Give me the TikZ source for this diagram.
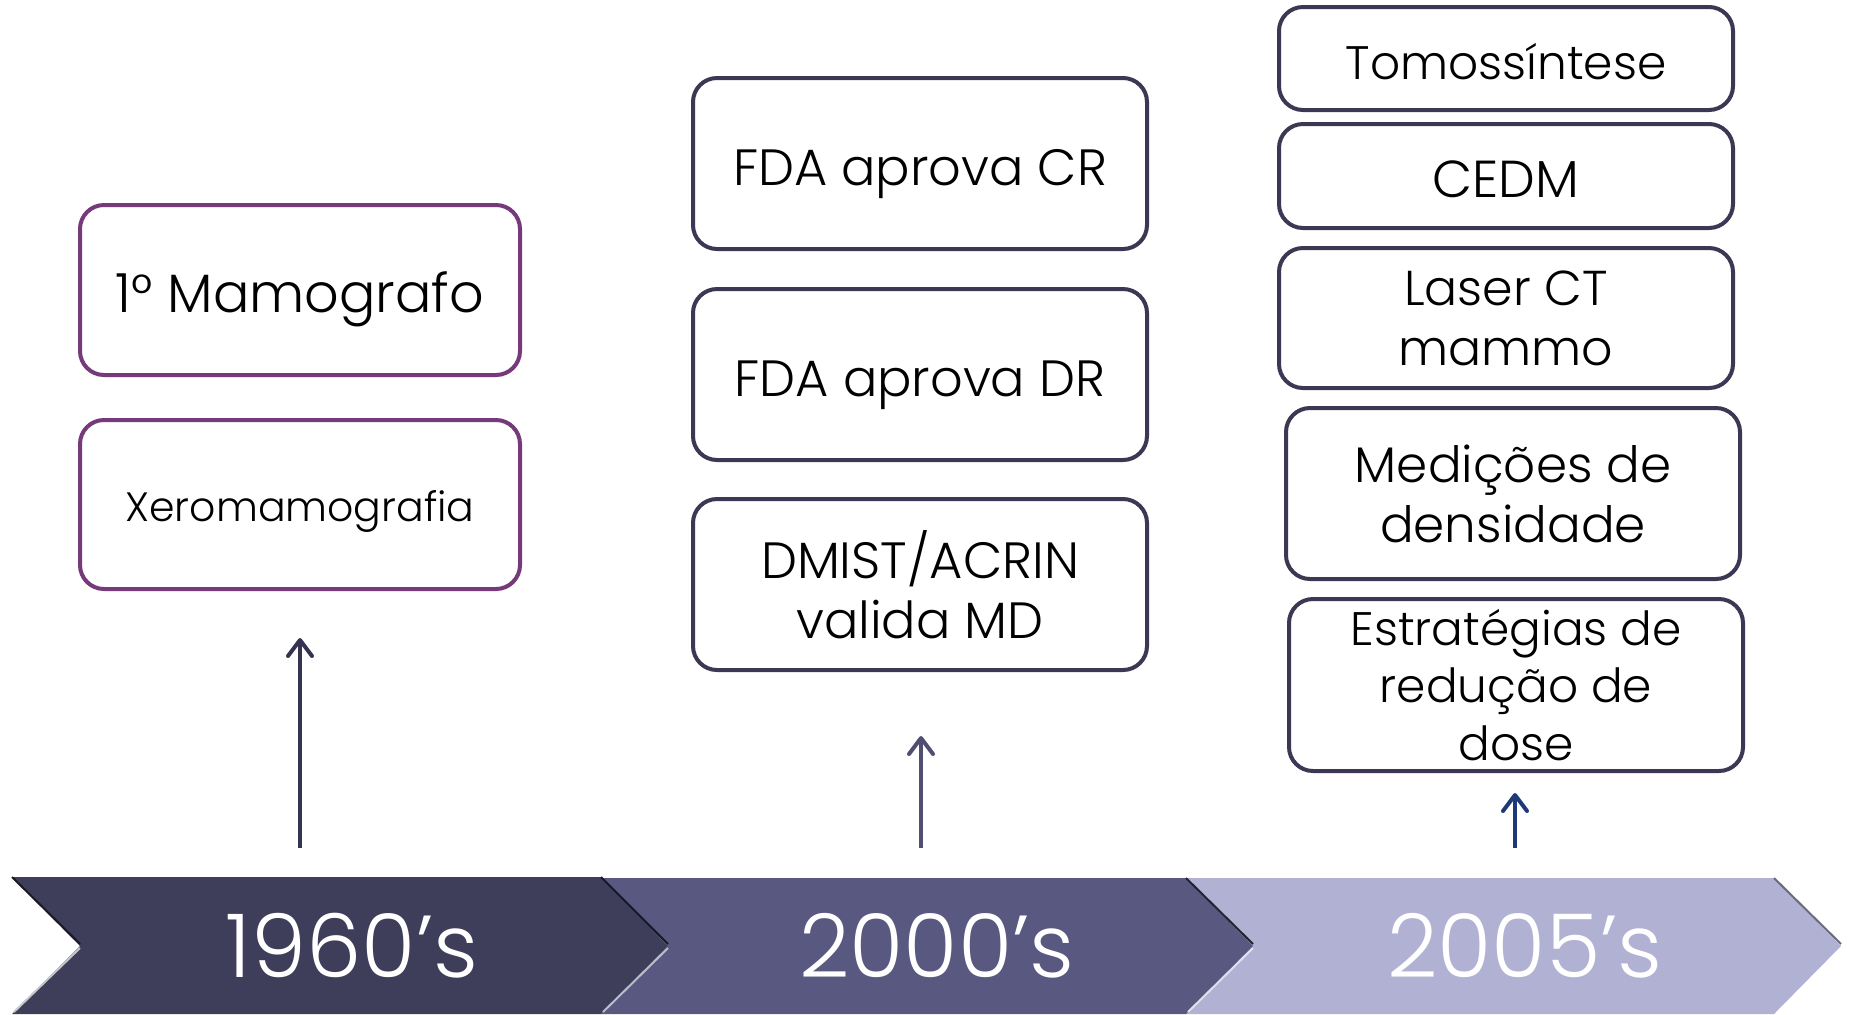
\documentclass[tikz,border=0pt]{standalone}
\usepackage{fontspec}
\setmainfont{Poppins}[UprightFont={* Light}]
\usetikzlibrary{arrows.meta}
\definecolor{purp}{RGB}{118,57,122}
\definecolor{dk}{RGB}{58,56,82}
\definecolor{chA}{RGB}{62,61,90}
\definecolor{chB}{RGB}{89,88,128}
\definecolor{chC}{RGB}{177,178,211}
\definecolor{arrA}{RGB}{52,52,80}
\definecolor{arrM}{RGB}{80,79,115}
\definecolor{arrB}{RGB}{31,56,120}
\tikzset{
  evbox/.style={draw=dk, line width=2pt, rounded corners=12pt, fill=white, align=center, inner sep=0pt, minimum width=227pt},
  pbox/.style={evbox, draw=purp, minimum width=220pt},
  fs/.style={font=\fontsize{#1}{30}\selectfont},
  fst/.style={font=\fontsize{#1}{28.7}\selectfont},
  oneline/.style={text height=#1, text depth=0pt},
  uparrow/.style={line width=2pt, -{Straight Barb[length=8pt,width=12pt,line width=2pt,round]}, arrA},
  year/.style={text=white, font=\fontsize{44}{44}\selectfont}
}
\begin{document}
\begin{tikzpicture}[x=0.5pt,y=-0.5pt]
\useasboundingbox (0,0) rectangle (1854,1014);
% chevrons
\fill[chC] (1186,878) -- (1774,878) -- (1841,946) -- (1774,1014) -- (1186,1014) -- (1253,946) -- cycle;
\fill[chB] (601,878) -- (1186,878) -- (1253,946) -- (1186,1014) -- (601,1014) -- (668,946) -- cycle;
\fill[chA] (12,877) -- (601,877) -- (668,946) -- (601,1014) -- (12,1014) -- (80,946) -- cycle;
\draw[black!60!chA, line width=1pt] (12,877) -- (80,944);
\draw[black!60!chA, line width=1pt] (601,877) -- (668,944);
\draw[black!60!chB, line width=1pt] (1186,878) -- (1253,944);
\draw[black!40!chC, line width=1pt] (1774,878) -- (1841,944);
\draw[white!70!chA, line width=1pt] (80,948) -- (14,1012);
\draw[white!60!chB, line width=1pt] (668,948) -- (603,1012);
\draw[white!60!chC, line width=1pt] (1253,948) -- (1188,1012);
\node[year] (y1) at (352,946) {1960’s};
\node[year] (y2) at (937,946) {2000’s};
\node[year] (y3) at (1525,946) {2005’s};
% column 1
\node[pbox, minimum height=85pt, fs=27, oneline=22pt] (b11) at (300,290) {1° Mamografo};
\node[pbox, minimum height=84.5pt, fs=20.5, oneline=17pt] (b12) at (300,504.5) {Xeromamografia};
% column 2
\node[evbox, minimum height=85.5pt, fs=25.5, oneline=22pt] (b21) at (920,163.5) {FDA aprova CR};
\node[evbox, minimum height=85.5pt, fs=25.5, oneline=22pt] (b22) at (920,374.5) {FDA aprova DR};
\node[evbox, minimum height=85.5pt, fs=25.5] (b23) at (920,584.5) {DMIST/ACRIN\\valida MD};
% column 3
\node[evbox, minimum height=51.5pt, fs=23.5, oneline=21pt] (b31) at (1506,58.5) {Tomossíntese};
\node[evbox, minimum height=52pt, fs=26, oneline=21pt] (b32) at (1506,176) {CEDM};
\node[evbox, minimum height=70pt, fs=24.5] (b33) at (1506,318) {Laser CT\\mammo};
\node[evbox, minimum height=85.5pt, fs=25] (b34) at (1513,493.5) {Medições de\\densidade};
\node[evbox, minimum height=86pt, fst=23.5] (b35) at (1516,685) {Estratégias de\\redução de\\dose};
% arrows
\coordinate (a1s) at (300,848); \coordinate (a1e) at (300,638);
\coordinate (a2s) at (921,848); \coordinate (a2e) at (921,736);
\coordinate (a3s) at (1515,848); \coordinate (a3e) at (1515,793);
\draw[uparrow] (a1s) -- (a1e);
\draw[uparrow, arrM] (a2s) -- (a2e);
\draw[uparrow, arrB] (a3s) -- (a3e);
\end{tikzpicture}
\end{document}
